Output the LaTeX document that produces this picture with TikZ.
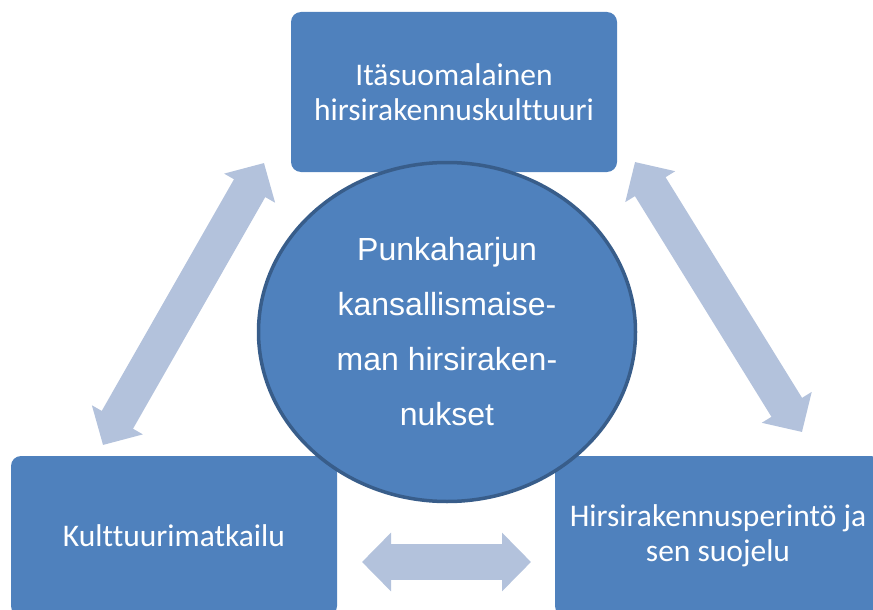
\documentclass[tikz,border=0pt]{standalone}
\usepackage{fontspec}
\setmainfont{Carlito}[Ligatures=NoCommon]
\newfontfamily\arialfont{Liberation Sans}
\usetikzlibrary{shapes.geometric, arrows.meta}

\definecolor{boxblue}{HTML}{4F81BD}
\definecolor{ringblue}{HTML}{385D8A}
\definecolor{arrowblue}{HTML}{B3C2DC}

\begin{document}
\begin{tikzpicture}[x=1pt, y=-1pt,
        topic/.style={rectangle, rounded corners=10pt, fill=boxblue, text=white,
            minimum width=326pt, minimum height=160pt, align=center,
            font=\fontsize{31.5}{35}\selectfont},
        hub/.style={ellipse, fill=boxblue, draw=ringblue, line width=3.5pt, text=white,
            minimum width=377pt, minimum height=339pt, inner sep=0pt, align=center,
            font=\arialfont\fontsize{32}{55}\selectfont},
        link/.style={arrowblue, line width=36pt,
            {Triangle[width=57pt, length=29pt]}-{Triangle[width=57pt, length=29pt]}}]
        \useasboundingbox (0,0) rectangle (873,610);
        \clip (0,0) rectangle (873,610);

        % the three topics
        \node[topic] (heritage) at (454,92) {Itäsuomalainen\\hirsirakennuskulttuuri};
        \node[topic] (tourism) at (174,536) {Kulttuurimatkailu};
        \node[topic] (protect) at (718,536) {Hirsirakennusperintö ja\\sen suojelu};

        % arrow ends
        \coordinate (tl) at (103,445);
        \coordinate (tt) at (264,163);
        \coordinate (rt) at (635,162);
        \coordinate (rb) at (802,432);
        \coordinate (bl) at (362,562);
        \coordinate (br) at (531,562);

        \draw[link] (tl) -- (tt);
        \draw[link] (rt) -- (rb);
        \draw[link] (bl) -- (br);

        % centre
        \node[hub] (punka) at (447,332) {Punkaharjun\\kansallismaise-\\man hirsiraken-\\nukset};
    \end{tikzpicture}
\end{document}
